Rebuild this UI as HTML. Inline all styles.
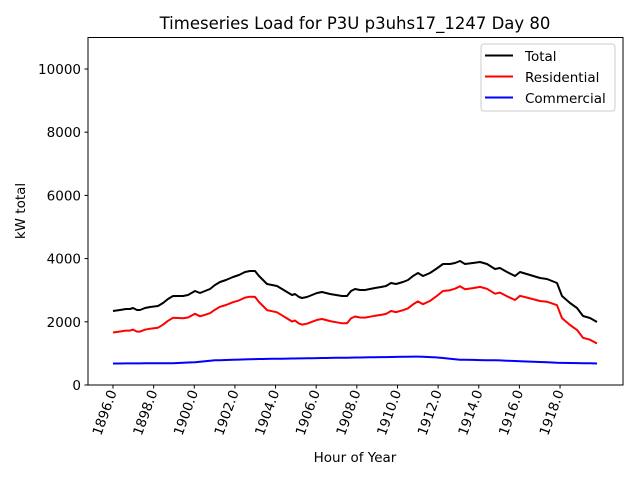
<!DOCTYPE html>
<html><head><meta charset="utf-8"><style>body{margin:0;background:#fff}svg{display:block;font-family:"DejaVu Sans","Liberation Sans",sans-serif}</style></head>
<body>
<svg id="s" width="640" height="480" xmlns="http://www.w3.org/2000/svg">
<rect width="640" height="480" fill="#fff"/>
<text x="355" y="29" font-size="16.5" text-anchor="middle">Timeseries Load for P3U p3uhs17_1247  Day 80</text>
<g id="lines"></g>
<rect x="88" y="37.5" width="535" height="347.5" fill="none" stroke="#000" stroke-width="1"/>
<g id="ticks" font-size="13.5"></g>
<text x="355" y="462" font-size="13.5" text-anchor="middle">Hour of Year</text>
<text transform="translate(25,211) rotate(-90)" font-size="13.5" text-anchor="middle">kW total</text>
<rect x="481" y="44" width="134" height="67" rx="3" fill="#fff" fill-opacity="0.8" stroke="#ccc"/>
<line x1="485" y1="55.5" x2="513" y2="55.5" stroke="#000" stroke-width="2"/>
<line x1="485" y1="76.5" x2="513" y2="76.5" stroke="#f00" stroke-width="2"/>
<line x1="485" y1="97.5" x2="513" y2="97.5" stroke="#00f" stroke-width="2"/>
<text x="525" y="61" font-size="13.5">Total</text>
<text x="525" y="82" font-size="13.5">Residential</text>
<text x="525" y="103" font-size="13.5">Commercial</text>
</svg>
<script>
var NS="http://www.w3.org/2000/svg";
var B=[[113,311],[120,310],[126,309],[130,309],[133,308],[137,310],[140,310],[145,308],[150,307],[158,306],[163,303],[168,299],[173,296],[178,296],[183,296],[188,295],[195,291],[200,293],[205,291],[210,289],[215,285],[220,282],[226,280],[233,277],[239,275],[245,272],[250,271],[255,271],[259,276],[263,280],[267,284],[272,285],[277,286],[282,289],[287,292],[292,295],[295,294],[299,297],[302,298],[307,297],[312,295],[317,293],[322,292],[326,293],[330,294],[336,295],[342,296],[347,296],[351,291],[355,289],[360,290],[365,290],[370,289],[375,288],[381,287],[386,286],[391,283],[396,284],[403,282],[408,280],[413,276],[418,273],[423,276],[430,273],[436,269],[443,264],[450,264],[455,263],[460,261],[465,264],[473,263],[480,262],[487,264],[495,269],[500,268],[507,272],[515,276],[520,272],[530,275],[540,278],[547,279],[557,283],[562,296],[570,303],[577,308],[583,316],[590,318],[597,322]];
var C=[[1896,680],[1899,690],[1900,720],[1901,780],[1902,800],[1903,820],[1906,850],[1909,880],[1911,900],[1912,870],[1913,800],[1915,780],[1918,700],[1920,680]];
function c(h){for(var i=0;i<C.length-1;i++){if(h<=C[i+1][0]){var t=(h-C[i][0])/(C[i+1][0]-C[i][0]);return C[i][1]+t*(C[i+1][1]-C[i][1]);}}return 680;}
function X(h){return 113+(h-1896)*20.32}
function hx(x){return 1896+(x-113)/20.32}
var k=0.0316,bl=[],rd=[],bu=[];
B.forEach(function(p){var cv=c(hx(p[0]));bl.push(p[0]+","+p[1]);rd.push(p[0]+","+(p[1]+cv*k).toFixed(1));bu.push(p[0]+","+(385-cv*k).toFixed(1));});
var g=document.getElementById("lines");
[[bl,"#000"],[rd,"#f00"],[bu,"#00f"]].forEach(function(a){var e=document.createElementNS(NS,"polyline");e.setAttribute("points",a[0].join(" "));e.setAttribute("fill","none");e.setAttribute("stroke",a[1]);e.setAttribute("stroke-width","2");e.setAttribute("stroke-linejoin","round");g.appendChild(e);});
var t=document.getElementById("ticks"),h="";
for(var v=0;v<=10000;v+=2000){var y=385-v*k;h+='<line x1="84.5" x2="88" y1="'+y+'" y2="'+y+'" stroke="#000"/><text x="81" y="'+(y+5)+'" text-anchor="end">'+v+'</text>';}
for(var yr=1896;yr<=1918;yr+=2){var x=X(yr);h+='<line x1="'+x+'" x2="'+x+'" y1="385" y2="388.5" stroke="#000"/><text transform="translate('+(x+4)+',392) rotate(-70)" text-anchor="end">'+yr+'.0</text>';}
t.innerHTML=h;
</script>
</body></html>
